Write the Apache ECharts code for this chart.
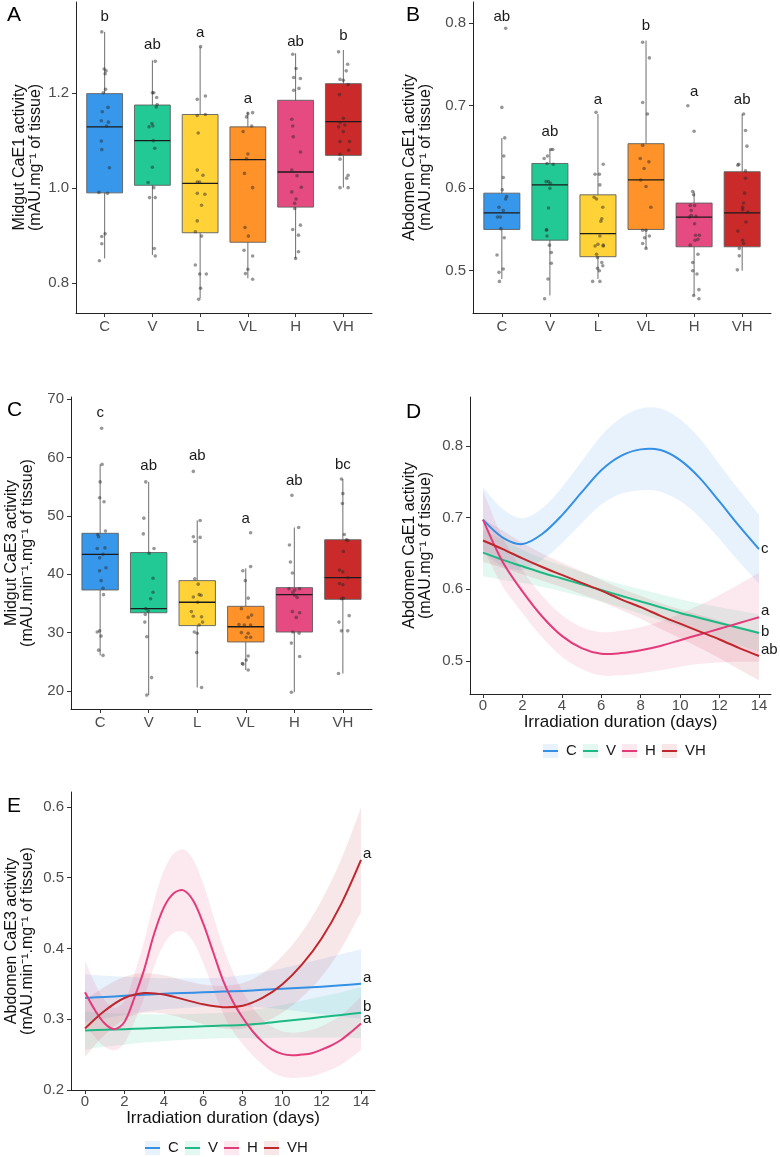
<!DOCTYPE html>
<html><head><meta charset="utf-8">
<script src="https://cdn.jsdelivr.net/npm/echarts@6/dist/echarts.min.js"></script>
<style>html,body{margin:0;padding:0;background:#fff}#c{width:780px;height:1157px}</style>
</head><body><div id="c"></div>
<script>
const FF = 'Liberation Sans, Arial, Helvetica, sans-serif';
const groups = ['C','V','L','VL','H','VH'];
const boxColors = ['#3797EB','#22C995','#FFD337','#FF9228','#E54A80','#CB2A2A'];

// box stats: [lower whisker, q1, median, q3, upper whisker]
const statsA = [[0.852,0.990,1.129,1.199,1.329],[0.859,1.006,1.100,1.175,1.269],[0.768,0.906,1.010,1.155,1.297],
                [0.810,0.886,1.060,1.129,1.161],[0.852,0.960,1.034,1.185,1.284],[1.001,1.069,1.140,1.220,1.291]];
const statsB = [[0.490,0.550,0.570,0.594,0.661],[0.470,0.537,0.604,0.630,0.647],[0.490,0.517,0.545,0.592,0.690],
                [0.527,0.550,0.610,0.654,0.779],[0.470,0.529,0.565,0.582,0.596],[0.500,0.529,0.570,0.620,0.690]];
const statsC = [[26.1,37.3,43.4,47.0,58.8],[19.3,33.4,34.1,43.7,55.8],[20.6,31.2,35.2,38.9,49.2],
                [23.6,28.4,31.0,34.5,41.0],[19.8,30.1,36.5,37.7,48.0],[23.0,35.7,39.4,45.9,56.3]];

const lettersA = ['b','ab','a','a','ab','b'];
const letterYA = [1.360,1.301,1.328,1.189,1.307,1.320];
const lettersB = ['ab','ab','a','b','a','ab'];
const letterYB = [0.808,0.668,0.707,0.797,0.717,0.707];
const lettersC = ['c','ab','ab','a','ab','bc'];
const letterYC = [67.6,58.5,60.2,49.5,56.0,58.8];

// jittered points: [jitter offset (category units), value]
const pointsA = [
 [[-0.06,1.329],[-0.01,1.251],[0.03,1.247],[0.01,1.241],[0.02,1.208],[-0.03,1.201],[0.07,1.170],[-0.05,1.161],[-0.07,1.142],[0.08,1.139],[0.04,1.131],[-0.07,1.099],[-0.06,1.081],[0.10,1.043],[-0.12,0.991],[0.06,0.989],[0.01,0.904],[-0.06,0.898],[-0.06,0.883],[-0.11,0.847]],
 [[0.06,1.267],[0.0,1.201],[0.03,1.201],[0.09,1.191],[0.10,1.176],[0.08,1.171],[-0.01,1.136],[0.01,1.131],[-0.07,1.129],[0.02,1.100],[0.05,1.084],[0.0,1.044],[-0.09,1.012],[0.03,1.001],[-0.06,0.980],[0.06,0.980],[0.04,0.873],[0.06,0.857]],
 [[0.01,1.298],[-0.06,1.187],[0.11,1.194],[-0.06,1.153],[0.11,1.155],[-0.04,1.116],[-0.06,1.038],[0.06,1.027],[-0.06,1.013],[-0.01,1.013],[-0.06,0.989],[0.10,0.987],[0.03,0.964],[-0.06,0.931],[-0.10,0.908],[0.03,0.899],[-0.10,0.838],[-0.01,0.819],[0.13,0.819],[0.01,0.789],[-0.03,0.766]],
 [[0.0,1.157],[0.10,1.159],[-0.03,1.150],[0.08,1.131],[-0.10,1.119],[0.0,1.072],[-0.03,1.062],[-0.07,1.031],[0.10,1.001],[-0.06,0.917],[0.01,0.899],[-0.08,0.869],[0.10,0.857],[0.0,0.829],[-0.05,0.820],[0.10,0.808]],
 [[-0.06,1.282],[0.01,1.252],[-0.04,1.233],[0.10,1.231],[-0.04,1.206],[0.07,1.210],[-0.08,1.145],[-0.06,1.131],[-0.05,1.108],[0.10,1.076],[-0.08,1.038],[0.03,1.026],[-0.08,0.992],[0.12,1.002],[0.01,0.977],[-0.02,0.968],[-0.02,0.957],[-0.06,0.913],[0.10,0.922],[0.06,0.901],[0.06,0.866],[0.0,0.852]],
 [[-0.10,1.287],[0.09,1.261],[0.06,1.247],[-0.07,1.229],[0.0,1.227],[0.10,1.218],[-0.08,1.197],[0.0,1.147],[-0.07,1.138],[0.03,1.133],[-0.10,1.129],[0.0,1.119],[-0.07,1.098],[0.13,1.098],[0.11,1.080],[-0.07,1.071],[-0.07,1.061],[0.10,1.027],[0.07,1.021],[-0.07,1.001],[0.10,1.001]]
];
const pointsB = [
 [[0.08,0.794],[0.0,0.698],[0.06,0.661],[0.04,0.639],[0.03,0.613],[0.01,0.598],[0.10,0.590],[0.08,0.587],[-0.06,0.577],[0.03,0.573],[-0.09,0.565],[-0.03,0.565],[-0.02,0.551],[0.05,0.540],[-0.10,0.519],[0.03,0.502],[-0.06,0.498],[-0.05,0.487]],
 [[-0.12,0.636],[-0.05,0.639],[0.02,0.647],[0.06,0.647],[-0.06,0.630],[0.07,0.629],[-0.08,0.608],[-0.03,0.608],[0.01,0.606],[0.0,0.600],[-0.03,0.576],[-0.07,0.550],[-0.07,0.549],[-0.06,0.542],[-0.01,0.531],[0.03,0.522],[0.03,0.509],[-0.04,0.490],[-0.11,0.466]],
 [[-0.04,0.692],[0.11,0.629],[-0.06,0.617],[0.03,0.617],[0.04,0.604],[-0.08,0.589],[-0.03,0.587],[0.10,0.577],[0.08,0.563],[0.06,0.560],[0.04,0.542],[0.11,0.531],[-0.06,0.530],[0.0,0.532],[0.11,0.530],[-0.03,0.520],[-0.01,0.516],[0.08,0.510],[0.10,0.506],[-0.01,0.503],[0.03,0.500],[-0.11,0.487],[0.04,0.487]],
 [[-0.07,0.777],[0.07,0.758],[-0.07,0.704],[0.03,0.690],[-0.07,0.652],[-0.12,0.636],[0.06,0.632],[-0.04,0.624],[-0.11,0.610],[0.0,0.602],[0.10,0.577],[-0.07,0.549],[0.0,0.549],[-0.03,0.540],[0.07,0.542],[-0.07,0.533],[0.0,0.527]],
 [[-0.13,0.700],[0.0,0.669],[-0.03,0.596],[-0.01,0.592],[-0.08,0.579],[0.01,0.579],[-0.06,0.573],[-0.06,0.567],[0.04,0.566],[-0.10,0.565],[0.01,0.557],[0.03,0.543],[0.11,0.543],[0.08,0.538],[0.02,0.537],[-0.08,0.531],[0.08,0.520],[-0.03,0.510],[-0.03,0.500],[0.06,0.496],[0.10,0.477],[-0.01,0.470],[0.10,0.466]],
 [[0.03,0.690],[0.07,0.670],[0.10,0.651],[-0.09,0.628],[-0.07,0.629],[0.07,0.621],[0.07,0.612],[0.05,0.594],[0.03,0.582],[0.01,0.577],[0.01,0.574],[0.12,0.571],[0.08,0.559],[-0.09,0.548],[0.01,0.537],[0.03,0.533],[-0.06,0.527],[-0.06,0.518],[-0.10,0.501]]
];
const pointsC = [
 [[0.03,65.0],[0.04,58.8],[0.0,55.8],[-0.01,53.1],[0.08,52.4],[0.11,47.4],[-0.05,46.8],[-0.03,46.4],[-0.06,44.4],[0.10,44.5],[0.06,43.4],[-0.01,42.8],[0.12,41.1],[-0.01,40.6],[0.02,38.9],[0.06,37.6],[0.07,36.5],[-0.06,30.1],[-0.01,30.3],[0.02,29.4],[-0.03,27.0],[0.06,26.1]],
 [[-0.06,55.8],[-0.10,49.6],[-0.11,46.9],[0.11,44.4],[0.01,43.6],[0.09,39.3],[0.09,36.9],[0.04,35.8],[-0.06,34.1],[-0.01,33.7],[-0.07,33.1],[-0.08,31.8],[-0.04,29.3],[0.06,22.3],[-0.04,19.3]],
 [[-0.08,57.6],[0.06,49.2],[-0.08,46.4],[0.06,46.3],[-0.05,45.6],[-0.05,39.2],[0.02,38.3],[0.04,36.5],[-0.08,36.1],[0.08,36.4],[0.01,35.2],[-0.12,33.6],[-0.08,32.8],[0.09,32.7],[0.11,31.8],[0.04,31.3],[-0.06,30.1],[0.0,29.9],[-0.01,26.6],[0.09,20.6]],
 [[0.10,47.1],[-0.06,40.6],[0.10,41.3],[-0.01,38.9],[0.05,35.9],[-0.09,34.1],[0.12,33.0],[0.05,32.6],[-0.03,31.3],[-0.14,31.4],[0.10,31.3],[-0.09,30.0],[0.05,29.9],[0.01,29.2],[0.10,29.2],[0.05,26.0],[0.01,25.3],[-0.07,24.7],[-0.06,24.6],[0.05,23.6]],
 [[-0.05,53.5],[0.09,48.0],[-0.10,45.0],[-0.08,42.1],[-0.04,40.2],[0.01,37.3],[-0.11,37.5],[-0.03,36.9],[0.01,36.4],[0.11,37.5],[0.06,36.0],[-0.04,33.6],[0.11,33.4],[0.04,32.6],[-0.03,30.1],[0.10,29.9],[-0.06,28.2],[0.11,25.9],[-0.06,19.8]],
 [[-0.03,56.3],[0.0,53.8],[-0.01,52.1],[0.03,46.8],[0.07,45.9],[0.10,45.8],[0.01,43.9],[-0.07,40.7],[0.0,40.4],[0.10,39.4],[-0.07,38.4],[0.0,38.2],[0.01,35.9],[-0.03,35.8],[-0.08,31.8],[0.13,32.9],[-0.03,30.3],[0.10,30.3],[-0.09,23.0]]
];

// smoothed trends (panels D, E)
const trendNames = ['C','V','H','VH'];
const lineColors = ['#3490E5','#1DB985','#E33B79','#C0272D'];
const bandColors = ['rgba(55,151,235,0.12)','rgba(34,201,149,0.12)','rgba(229,74,128,0.13)','rgba(192,39,45,0.11)'];

const days = [0,1,2,3,4,5,6,7,8,9,10,11,12,13,14];
const daysHalf = [0,0.5,1,1.5,2,2.5,3,3.5,4,4.5,5,5.5,6,6.5,7,7.5,8,8.5,9,9.5,10,10.5,11,11.5,12,12.5,13,13.5,14];

const D_C  = [0.697,0.672,0.663,0.677,0.703,0.735,0.766,0.786,0.795,0.794,0.780,0.755,0.722,0.688,0.656];
const D_V  = [0.651,0.641,0.632,0.623,0.615,0.607,0.599,0.591,0.583,0.575,0.567,0.560,0.553,0.546,0.539];
const D_H  = [0.697,0.638,0.597,0.562,0.535,0.518,0.510,0.511,0.515,0.521,0.529,0.537,0.545,0.553,0.561];
const D_VH = [0.668,0.656,0.643,0.631,0.620,0.609,0.598,0.586,0.575,0.563,0.552,0.541,0.530,0.518,0.507];
const seD_C  = [0.045,0.040,0.036,0.036,0.039,0.043,0.048,0.053,0.057,0.058,0.057,0.055,0.052,0.050,0.048];
const seD_V  = [0.033,0.028,0.023,0.020,0.018,0.017,0.016,0.016,0.017,0.018,0.019,0.020,0.022,0.024,0.026];
const seD_H  = [0.040,0.034,0.030,0.029,0.029,0.029,0.030,0.031,0.032,0.034,0.037,0.041,0.047,0.054,0.062];
const seD_VH = [0.030,0.026,0.022,0.019,0.017,0.016,0.015,0.015,0.016,0.018,0.020,0.023,0.026,0.030,0.034];
const endLabelsD = ['c','b','a','ab'];
const endLabelYD = [0.656,0.541,0.570,0.515];

const E_C  = [0.330,0.3315,0.333,0.3345,0.336,0.337,0.338,0.339,0.340,0.3415,0.343,0.3445,0.346,0.348,0.350];
const E_V  = [0.284,0.285,0.286,0.287,0.288,0.289,0.290,0.291,0.292,0.294,0.297,0.300,0.303,0.306,0.309];
const E_H  = [0.338,0.313,0.294,0.286,0.296,0.330,0.370,0.420,0.458,0.478,0.482,0.467,0.435,0.395,0.355,0.325,0.302,0.283,0.268,0.257,0.251,0.249,0.250,0.252,0.257,0.263,0.271,0.282,0.294];
const E_VH = [0.287,0.312,0.330,0.337,0.335,0.328,0.321,0.317,0.319,0.330,0.349,0.377,0.414,0.463,0.525];
const seE_C  = [0.034,0.030,0.027,0.024,0.022,0.021,0.020,0.020,0.022,0.025,0.029,0.034,0.039,0.044,0.049];
const seE_V  = [0.027,0.024,0.022,0.020,0.019,0.018,0.018,0.018,0.019,0.021,0.023,0.026,0.029,0.032,0.036];
const seE_H  = [0.045,0.038,0.033,0.030,0.030,0.034,0.040,0.046,0.052,0.056,0.058,0.058,0.056,0.052,0.047,0.042,0.037,0.034,0.032,0.032,0.032,0.032,0.032,0.033,0.033,0.034,0.035,0.036,0.038];
const seE_VH = [0.040,0.034,0.030,0.028,0.027,0.027,0.028,0.030,0.032,0.035,0.040,0.046,0.054,0.063,0.074];
const endLabelsE = ['a','b','a','a'];
const endLabelYE = [0.358,0.317,0.300,0.534];

const dayTicks = [0,2,4,6,8,10,12,14];

// ---------- helpers ----------
function yAx(gi, min, max, ticks, name, gap, dec){
  return {type:'value', gridIndex:gi, min, max, name, nameLocation:'middle', nameGap:gap, nameRotate:90,
    nameTextStyle:{fontSize:16, color:'#111', lineHeight:16.5, fontFamily:FF},
    axisLine:{show:true, onZero:false, lineStyle:{color:'#222', width:1}},
    axisTick:{show:true, length:4, lineStyle:{color:'#333'}, customValues:ticks},
    axisLabel:{customValues:ticks, fontSize:15, color:'#4d4d4d', margin:7, fontFamily:FF, formatter:v=>v.toFixed(dec)},
    splitLine:{show:false}};
}
function xAxCat(gi){
  const t=[1,2,3,4,5,6];
  return {type:'value', gridIndex:gi, min:0.4, max:6.6,
    axisLine:{show:true, onZero:false, lineStyle:{color:'#222', width:1}},
    axisTick:{show:true, length:4, lineStyle:{color:'#333'}, customValues:t},
    axisLabel:{customValues:t, fontSize:15, color:'#4d4d4d', margin:6, fontFamily:FF, formatter:v=>groups[Math.round(v)-1]},
    splitLine:{show:false}};
}
function xAxDays(gi, min, max){
  return {type:'value', gridIndex:gi, min, max, name:'Irradiation duration (days)', nameLocation:'middle', nameGap:19,
    nameTextStyle:{fontSize:17, color:'#111', fontFamily:FF},
    axisLine:{show:true, onZero:false, lineStyle:{color:'#222', width:1}},
    axisTick:{show:true, length:4, lineStyle:{color:'#333'}, customValues:dayTicks},
    axisLabel:{customValues:dayTicks, fontSize:15, color:'#4d4d4d', margin:4, fontFamily:FF},
    splitLine:{show:false}};
}
function boxSeries(ax, stats){
  return {type:'custom', xAxisIndex:ax, yAxisIndex:ax, z:2, silent:true,
    data: stats.map((s,k)=>[k+1].concat(s)), encode:{x:0, y:[1,2,3,4,5]},
    renderItem(params, api){
      const i = api.value(0);
      const lo = api.coord([i, api.value(1)]), q1 = api.coord([i, api.value(2)]),
            md = api.coord([i, api.value(3)]), q3 = api.coord([i, api.value(4)]), hi = api.coord([i, api.value(5)]);
      const w = api.size([0.75, 0])[0], x = lo[0];
      return {type:'group', children:[
        {type:'line', shape:{x1:x, y1:hi[1], x2:x, y2:lo[1]}, style:{stroke:'#6e6e6e', lineWidth:1}},
        {type:'rect', shape:{x:x-w/2, y:q3[1], width:w, height:q1[1]-q3[1]}, style:{fill:boxColors[params.dataIndex], stroke:'#5f5f5f', lineWidth:0.9}},
        {type:'line', shape:{x1:x-w/2, y1:md[1], x2:x+w/2, y2:md[1]}, style:{stroke:'#1a1a1a', lineWidth:1.3}}
      ]};
    }};
}
function pointSeries(ax, pts){
  return {type:'scatter', xAxisIndex:ax, yAxisIndex:ax, z:3, silent:true, symbolSize:3.6,
    itemStyle:{color:'rgba(40,40,40,0.6)'},
    data: pts.flatMap((arr,k)=>arr.map(p=>[k+1+p[0], p[1]]))};
}
function textSeries(ax, xs, ys, labels, align, dx){
  return {type:'custom', xAxisIndex:ax, yAxisIndex:ax, z:5, silent:true, clip:false,
    data: xs.map((x,k)=>[x, ys[k]]),
    renderItem(params, api){
      const p = api.coord([api.value(0), api.value(1)]);
      return {type:'text', x:p[0]+dx, y:p[1], style:{text:labels[params.dataIndex], fill:'#1a1a1a',
        font:'15px '+FF, textAlign:align, textVerticalAlign:'middle'}};
    }};
}
// confidence band: polygon between (center - se) and (center + se), smoothed
function bandSeries(ax, xs, center, se, color){
  const data = xs.map((x,k)=>[x, center[k]-se[k], center[k]+se[k]]);
  return {type:'custom', xAxisIndex:ax, yAxisIndex:ax, z:1, silent:true, data, encode:{x:0, y:[1,2]},
    renderItem(params, api){
      if(params.dataIndex !== 0) return null;
      const up = data.map(d=>api.coord([d[0], d[2]]));
      const lo = data.map(d=>api.coord([d[0], d[1]])).reverse();
      const pts = [up[0]].concat(up, [up[up.length-1], lo[0]], lo, [lo[lo.length-1]]);
      return {type:'polygon', shape:{points:pts, smooth:0.33}, style:{fill:color}};
    }};
}
function lineSeries(ax, xs, ys, color){
  const data = xs.map((x,k)=>[x, ys[k]]);
  return {type:'custom', xAxisIndex:ax, yAxisIndex:ax, z:3, silent:true, data, encode:{x:0, y:1},
    renderItem(params, api){
      if(params.dataIndex !== 0) return null;
      const pts = data.map(d=>api.coord(d));
      return {type:'polyline', shape:{points:pts, smooth:0.33}, style:{stroke:color, lineWidth:2, fill:null}};
    }};
}
function legendGraphic(x0, yc){
  const offs = [0,40,79,119];
  const out = [];
  trendNames.forEach((n,k)=>{
    const x = x0 + offs[k];
    out.push({type:'rect', shape:{x, y:yc-7, width:15, height:14}, style:{fill:bandColors[k]}});
    out.push({type:'line', shape:{x1:x, y1:yc, x2:x+15, y2:yc}, style:{stroke:lineColors[k], lineWidth:2}});
    out.push({type:'text', x:x+23, y:yc, style:{text:n, fill:'#1a1a1a', font:'15px '+FF, textVerticalAlign:'middle'}});
  });
  return out;
}

const D_series = [D_C, D_V, D_H, D_VH], D_se = [seD_C, seD_V, seD_H, seD_VH];
const E_series = [E_C, E_V, E_H, E_VH], E_se = [seE_C, seE_V, seE_H, seE_VH];
const E_x = [days, days, daysHalf, days];

const series = [
  boxSeries(0, statsA), pointSeries(0, pointsA), textSeries(0, [1,2,3,4,5,6], letterYA, lettersA, 'center', 0),
  boxSeries(1, statsB), pointSeries(1, pointsB), textSeries(1, [1,2,3,4,5,6], letterYB, lettersB, 'center', 0),
  boxSeries(2, statsC), pointSeries(2, pointsC), textSeries(2, [1,2,3,4,5,6], letterYC, lettersC, 'center', 0)
];
D_series.forEach((s,k)=>series.push(bandSeries(3, days, s, D_se[k], bandColors[k])));
D_series.forEach((s,k)=>series.push(lineSeries(3, days, s, lineColors[k])));
series.push(textSeries(3, [14,14,14,14], endLabelYD, endLabelsD, 'left', 2));
E_series.forEach((s,k)=>series.push(bandSeries(4, E_x[k], s, E_se[k], bandColors[k])));
E_series.forEach((s,k)=>series.push(lineSeries(4, E_x[k], s, lineColors[k])));
series.push(textSeries(4, [14,14,14,14], endLabelYE, endLabelsE, 'left', 2));

const panelLetters = [['A',7,5],['B',406,5],['C',7,400],['D',406,402],['E',7,796]];

const option = {
  animation:false,
  backgroundColor:'#fff',
  textStyle:{fontFamily:FF},
  grid:[
    {left:76, top:2, width:296, height:311, outerBoundsMode:'none'},
    {left:473, top:2, width:298, height:311, outerBoundsMode:'none'},
    {left:71, top:397, width:301, height:312, outerBoundsMode:'none'},
    {left:470, top:397, width:301, height:297, outerBoundsMode:'none'},
    {left:71, top:792, width:304, height:298, outerBoundsMode:'none'}
  ],
  xAxis:[xAxCat(0), xAxCat(1), xAxCat(2), xAxDays(3,-0.66,14.61), xAxDays(4,-0.71,14.71)],
  yAxis:[
    yAx(0, 0.737, 1.392, [0.8,1.0,1.2], 'Midgut CaE1 activity\n(mAU.mg\u207B\u00B9 of tissue)', 32, 1),
    yAx(1, 0.4487, 0.8258, [0.5,0.6,0.7,0.8], 'Abdomen CaE1 activity\n(mAU.mg\u207B\u00B9 of tissue)', 39, 1),
    yAx(2, 16.92, 70.34, [20,30,40,50,60,70], 'Midgut CaE3 activity\n(mAU.min\u207B\u00B9.mg\u207B\u00B9 of tissue)', 35, 0),
    yAx(3, 0.454, 0.868, [0.5,0.6,0.7,0.8], 'Abdomen CaE1 activity\n(mAU.mg\u207B\u00B9 of tissue)', 36, 1),
    yAx(4, 0.2, 0.621, [0.2,0.3,0.4,0.5,0.6], 'Abdomen CaE3 activity\n(mAU.min\u207B\u00B9.mg\u207B\u00B9 of tissue)', 35, 1)
  ],
  graphic: panelLetters.map(p=>({type:'text', left:p[1], top:p[2], style:{text:p[0], fill:'#000', font:'21px '+FF}}))
            .concat(legendGraphic(543, 751), legendGraphic(145, 1148)),
  series
};
const chart = echarts.init(document.getElementById('c'), null, {renderer:'canvas'});
chart.setOption(option);
</script></body></html>
